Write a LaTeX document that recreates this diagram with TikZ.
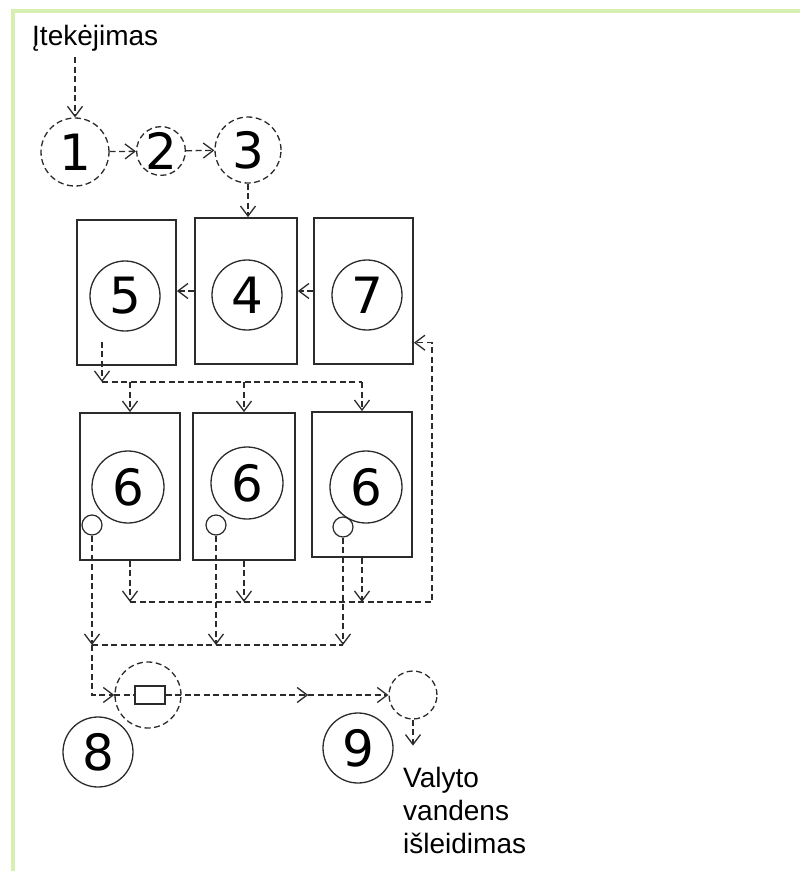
\documentclass[tikz,border=0pt]{standalone}
\usepackage{fontspec}
\setmainfont{Liberation Sans}
\newfontfamily\digitfont{DejaVu Sans}
\usepackage{tikz}
\usetikzlibrary{arrows.meta, positioning, calc}
\definecolor{framegreen}{HTML}{D8EFB2}
\definecolor{inkgray}{HTML}{2B2B2B}
\tikzset{
  tank_box/.style={rectangle, draw=inkgray, line width=1.8pt, minimum width=100pt, minimum height=146pt, inner sep=0pt},
  stage_no/.style={circle, draw=inkgray, line width=1.3pt, minimum size=70pt, inner sep=0pt, font=\digitfont\fontsize{50}{56}\selectfont},
  stage_dash/.style={stage_no, dashed, dash pattern=on 6pt off 3.5pt},
  valve/.style={circle, draw=inkgray, line width=1.2pt, minimum size=20pt, inner sep=0pt},
  filter_box/.style={rectangle, draw=inkgray, line width=1.5pt, minimum width=30pt, minimum height=18pt, inner sep=0pt},
  label_text/.style={font=\fontsize{28}{33}\selectfont, inner sep=0pt, align=left},
  pipe/.style={draw=inkgray, line width=1.3pt, dash pattern=on 6pt off 3.5pt},
  flow/.style={pipe, -{Straight Barb[length=10pt, width=15pt, line width=1.3pt]}},
  frame_line/.style={draw=framegreen, line width=4pt}
}
\begin{document}
\begin{tikzpicture}[x=1pt, y=-1pt]
  \useasboundingbox (0,0) rectangle (800,871);
  \draw[frame_line] (13,871) -- (13,11) -- (800,11);

  % Inflow and pre-treatment
  \node (inflow) [label_text, anchor=base west] at (32,45) {Įtekėjimas};
  \node (c1) [stage_dash, minimum size=68pt] at (75,152) {1};
  \node (c2) [stage_dash, minimum size=47pt] at (161,151) {2};
  \node (c3) [stage_dash, minimum size=66pt] at (248,150) {3};

  % First row of tanks
  \node (t5) [tank_box, minimum width=99pt, minimum height=145pt] at (126.5,292.5) {};
  \node (t4) [tank_box, minimum width=102pt] at (246,291) {};
  \node (t7) [tank_box, minimum width=99pt] at (363.5,291) {};
  \node (n5) [stage_no] at (125,296) {5};
  \node (n4) [stage_no] at (247,295) {4};
  \node (n7) [stage_no] at (367,295) {7};

  % Second row of tanks
  \node (t6a) [tank_box, minimum height=147pt] at (130,486.5) {};
  \node (t6b) [tank_box, minimum width=102pt, minimum height=147pt] at (244,486.5) {};
  \node (t6c) [tank_box, minimum height=145pt] at (362,484.5) {};
  \foreach \i/\x/\y in {a/128/487, b/247/483, c/366/487} {
    \node (n6\i) [stage_no, minimum size=72pt] at (\x,\y) {6};
  }
  \node (s6a) [valve] at (92,525) {};
  \node (s6b) [valve] at (216,525) {};
  \node (s6c) [valve] at (343,527) {};

  % Outlet part
  \node (c8in) [stage_dash, minimum size=66pt] at (148,695) {};
  \node (filter) [filter_box] at (150,695) {};
  \node (c9in) [stage_dash, minimum size=48pt] at (413,695) {};
  \node (n8) [stage_no] at (98,752) {8};
  \node (n9) [stage_no] at (358,748) {9};
  \node (outflow) [label_text, anchor=north west] at (403,767) {Valyto\\vandens\\išleidimas};

  \coordinate (hub) at (102,382);
  \coordinate (sludge) at (92,645);
  \coordinate (ret) at (432,602);
  \coordinate (t7in) at ($(t7.south east)!0.15!(t7.north east)$);
  \coordinate (mid) at ($(filter.east)!0.64!(c9in.west)$);
  \coordinate (outlet) at ($(c9in.south)+(0,26)$);

  % Connections
  \draw [flow] (c1 |- inflow.south) ++(0,6) -- (c1.north);
  \draw [flow] (c1) -- (c2);
  \draw [flow] (c2) -- (c3);
  \draw [flow] (c3.south) -- (c3.south |- t4.north);
  \draw [flow] (t4.west) -- (t4.west -| t5.east);
  \draw [flow] (t7.west) -- (t7.west -| t4.east);
  \draw [flow] (hub |- n5.south) ++(0,10) -- (hub);
  \draw [pipe] (hub) -- (hub -| t6c.north);
  \foreach \t in {t6a, t6b, t6c} {
    \draw [flow] (hub -| \t.north) -- (\t.north);
    \draw [flow] (\t.south) -- (\t.south |- ret);
  }
  \draw [flow] (t6a.south |- ret) -- (ret) |- (t7in);
  \foreach \s in {s6a, s6b, s6c} {
    \draw [flow] (\s.south) -- (\s.south |- sludge);
  }
  \draw [pipe] (sludge) -- (sludge -| s6c.south);
  \draw [flow] (sludge) |- (c8in.west);
  \draw [pipe] (c8in.west) -- (filter.west);
  \draw [flow] (filter.east) -- (mid);
  \draw [flow] (mid) -- (c9in.west);
  \draw [flow] (c9in.south) -- (outlet);
\end{tikzpicture}
\end{document}
